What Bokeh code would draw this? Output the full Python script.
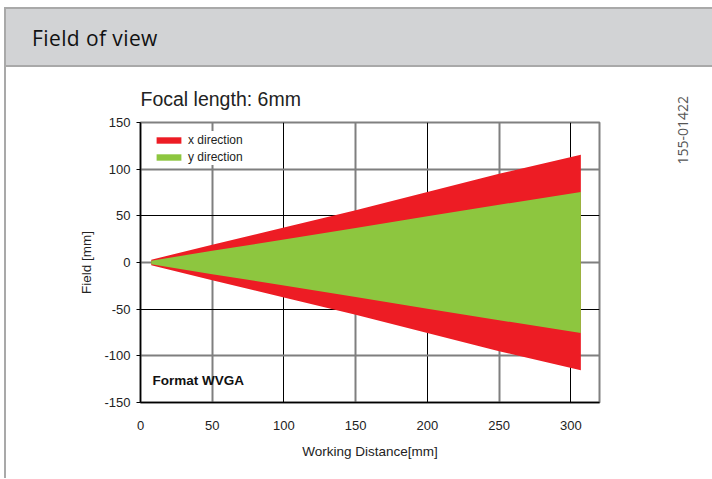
from bokeh.plotting import figure
from bokeh.models import (Div, Label, Grid, FixedTicker, Range1d, Legend, LegendItem)
from bokeh.layouts import column, row
from bokeh.embed import file_html
from bokeh.resources import INLINE

# ---- data ----
working_distance = [7.5, 50, 100, 150, 200, 250, 307]
x_half_field = [3, 19, 37.5, 56, 75.5, 95, 115.5]
y_half_field = [2, 12.5, 24.7, 37, 49.5, 61.8, 75.5]
x_ticks = [0, 50, 100, 150, 200, 250, 300]
y_ticks = [-150, -100, -50, 0, 50, 100, 150]

RED = "#ed1c24"
GREEN = "#8dc63f"
BORDER = "#a9a9a9"
FONT = "Liberation Sans"

header = Div(
    text="Field of view",
    width=708, height=60, margin=(0, 0, 0, 0),
    styles={
        "background-color": "#d2d3d5",
        "border-top": f"2px solid {BORDER}",
        "border-bottom": f"2px solid {BORDER}",
        "border-left": f"2px solid {BORDER}",
        "box-sizing": "border-box",
        "font-family": "Open Sans",
        "font-size": "21px",
        "letter-spacing": "0.4px",
        "color": "#111111",
        "padding-left": "26px",
        "padding-top": "14px",
    },
)

p = figure(
    width=620, height=411,
    x_range=Range1d(0, 320), y_range=Range1d(-150, 150),
    output_backend="svg", toolbar_location=None,
    min_border_left=134, min_border_right=27,
    min_border_top=55, min_border_bottom=76,
    title="Focal length: 6mm",
    styles={"border-left": f"2px solid {BORDER}", "box-sizing": "border-box"},
    margin=(0, 0, 0, 0),
)

p.title.text_font = FONT
p.title.text_font_size = "19.5px"
p.title.text_font_style = "normal"
p.title.text_color = "#222222"
p.title.align = "left"
p.title.standoff = 26

red = p.varea(x=working_distance, y1=[-v for v in x_half_field], y2=x_half_field,
              fill_color=RED)
green = p.varea(x=working_distance, y1=[-v for v in y_half_field], y2=y_half_field,
                fill_color=GREEN)

# grids: alternating gray / black lines
p.grid.visible = False
p.add_layout(Grid(dimension=0, ticker=FixedTicker(ticks=[50, 150, 250]),
                  grid_line_color="#7f7f7f", grid_line_width=2))
p.add_layout(Grid(dimension=0, ticker=FixedTicker(ticks=[100, 200, 300]),
                  grid_line_color="#000000", grid_line_width=1))
p.add_layout(Grid(dimension=1, ticker=FixedTicker(ticks=[-100, 0, 100]),
                  grid_line_color="#7f7f7f", grid_line_width=2))
p.add_layout(Grid(dimension=1, ticker=FixedTicker(ticks=[-50, 50]),
                  grid_line_color="#000000", grid_line_width=1))
for g in p.center:
    g.level = "underlay"

p.outline_line_color = "#808080"
p.outline_line_width = 2

p.xaxis.ticker = FixedTicker(ticks=x_ticks)
p.yaxis.ticker = FixedTicker(ticks=y_ticks)
p.xaxis.major_label_overrides = {t: str(t) for t in x_ticks}
p.yaxis.major_label_overrides = {t: str(t) for t in y_ticks}
for ax in (p.xaxis, p.yaxis):
    ax.axis_line_color = "#000000"
    ax.axis_line_width = 1.5
    ax.major_label_text_font = FONT
    ax.major_label_text_font_size = "13px"
    ax.major_label_text_color = "#222222"
    ax.axis_label_text_font = FONT
    ax.axis_label_text_font_size = "13.5px"
    ax.axis_label_text_font_style = "normal"
    ax.axis_label_text_color = "#222222"
    ax.minor_tick_line_color = None
    ax.major_tick_in = 0

p.xaxis.axis_label = "Working Distance[mm]"
p.xaxis.major_tick_line_color = None
p.xaxis.major_tick_out = 0
p.xaxis.major_label_standoff = 18
p.xaxis.axis_label_standoff = 11

p.yaxis.axis_label = "Field [mm]"
p.yaxis.major_tick_out = 4
p.yaxis.major_tick_line_color = "#000000"
p.yaxis.major_label_standoff = 6
p.yaxis.axis_label_standoff = 7

legend = Legend(
    items=[LegendItem(label="x direction", renderers=[red]),
           LegendItem(label="y direction", renderers=[green])],
    location=(13, 237), margin=0, padding=0, spacing=0,
    glyph_width=31, glyph_height=8, label_height=17, label_standoff=4,
    label_text_font=FONT, label_text_font_size="12px", label_text_color="#222222",
    background_fill_color="white", background_fill_alpha=1.0,
    border_line_color=None,
)
p.add_layout(legend)

p.add_layout(Label(x=8.4, y=-126, text="Format WVGA", text_font=FONT,
                   text_font_size="13.5px", text_font_style="bold",
                   text_color="#111111", text_baseline="middle"))

side = Div(
    text='<span style="display:inline-block; writing-mode: vertical-rl; '
         'transform: rotate(180deg); font-family: \'Open Sans\'; font-size: 14px; '
         'line-height: 18px; color: #555555;">155-01422</span>',
    width=86, height=411, margin=(0, 0, 0, 0),
    styles={"padding-left": "50px", "padding-top": "29px", "box-sizing": "border-box"},
)

layout = column(header, row(p, side, spacing=0, margin=(0, 0, 0, 0)),
                spacing=0, margin=(7, 0, 0, 4))

open("out.html", "w").write(file_html(layout, INLINE))
